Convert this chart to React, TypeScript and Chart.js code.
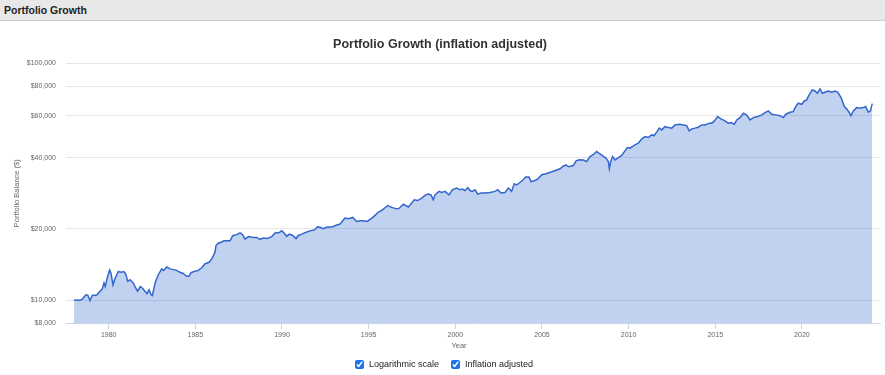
import React, { useEffect, useRef } from "react";
import { Chart, registerables } from "chart.js";

Chart.register(...registerables);

const FONT = '"Liberation Sans", Arial, Helvetica, sans-serif';

const chartTitle = "Portfolio Growth (inflation adjusted)";
const panelTitle = "Portfolio Growth";
const yAxisTitle = "Portfolio Balance ($)";
const xAxisTitle = "Year";
const legendItems = ["Logarithmic scale", "Inflation adjusted"];

const xTicks = [1980, 1985, 1990, 1995, 2000, 2005, 2010, 2015, 2020];
const yTicks = [8000, 10000, 20000, 40000, 60000, 80000, 100000];

const years = [
  1978.0, 1978.34, 1978.48, 1978.67, 1978.79, 1978.92, 1979.05, 1979.31, 1979.5, 1979.63,
  1979.73, 1979.8, 1979.94, 1980.06, 1980.13, 1980.25, 1980.36, 1980.55, 1980.71, 1980.87,
  1980.98, 1981.1, 1981.23, 1981.42, 1981.56, 1981.67, 1981.82, 1981.94, 1982.09, 1982.21,
  1982.33, 1982.44, 1982.52, 1982.63, 1982.71, 1982.86, 1983.06, 1983.17, 1983.35, 1983.54,
  1983.73, 1983.92, 1984.11, 1984.3, 1984.5, 1984.63, 1984.75, 1984.98, 1985.17, 1985.37,
  1985.56, 1985.79, 1985.94, 1986.13, 1986.19, 1986.32, 1986.52, 1986.65, 1986.81, 1987.0,
  1987.16, 1987.39, 1987.58, 1987.73, 1987.87, 1988.06, 1988.34, 1988.54, 1988.73, 1988.92,
  1989.15, 1989.41, 1989.6, 1989.84, 1989.98, 1990.12, 1990.27, 1990.42, 1990.62, 1990.81,
  1990.94, 1991.14, 1991.43, 1991.71, 1991.9, 1992.04, 1992.19, 1992.38, 1992.61, 1992.87,
  1993.12, 1993.35, 1993.5, 1993.64, 1993.83, 1994.08, 1994.31, 1994.5, 1994.69, 1994.92,
  1995.18, 1995.37, 1995.56, 1995.66, 1995.85, 1996.1, 1996.33, 1996.62, 1996.75, 1997.0,
  1997.29, 1997.48, 1997.63, 1997.83, 1998.06, 1998.29, 1998.44, 1998.6, 1998.73, 1998.83,
  1999.06, 1999.22, 1999.41, 1999.64, 1999.83, 2000.08, 2000.27, 2000.4, 2000.56, 2000.72,
  2000.85, 2000.98, 2001.14, 2001.29, 2001.48, 2001.71, 2002.0, 2002.29, 2002.45, 2002.64,
  2002.87, 2003.06, 2003.25, 2003.4, 2003.54, 2003.73, 2003.92, 2004.06, 2004.25, 2004.37,
  2004.56, 2004.75, 2004.99, 2005.18, 2005.58, 2006.05, 2006.2, 2006.39, 2006.52, 2006.81,
  2006.97, 2007.16, 2007.39, 2007.58, 2007.77, 2008.0, 2008.16, 2008.31, 2008.51, 2008.7,
  2008.83, 2008.89, 2008.97, 2009.08, 2009.22, 2009.41, 2009.6, 2009.79, 2009.93, 2010.08,
  2010.37, 2010.56, 2010.76, 2010.95, 2011.14, 2011.33, 2011.47, 2011.62, 2011.77, 2011.91,
  2012.1, 2012.29, 2012.49, 2012.68, 2012.93, 2013.16, 2013.35, 2013.5, 2013.64, 2013.83,
  2014.02, 2014.22, 2014.41, 2014.66, 2014.8, 2014.95, 2015.14, 2015.33, 2015.56, 2015.75,
  2015.91, 2016.1, 2016.24, 2016.43, 2016.62, 2016.81, 2017.01, 2017.2, 2017.45, 2017.68,
  2017.83, 2018.06, 2018.26, 2018.49, 2018.74, 2018.93, 2019.07, 2019.32, 2019.5, 2019.64,
  2019.79, 2019.99, 2020.14, 2020.28, 2020.41, 2020.6, 2020.76, 2020.89, 2021.05, 2021.18,
  2021.33, 2021.53, 2021.72, 2021.91, 2022.07, 2022.26, 2022.45, 2022.59, 2022.72, 2022.83,
  2022.97, 2023.16, 2023.35, 2023.54, 2023.68, 2023.83, 2023.95, 2024.06,
];

const balances = [
  10000, 9980, 10100, 10500, 10500, 9950, 10450, 10500, 10900, 11150,
  11800, 11400, 12600, 13400, 13000, 11600, 12300, 13200, 13100, 13200,
  12900, 12000, 12200, 11800, 11250, 10900, 11400, 11250, 10900, 10650,
  11050, 10550, 10450, 11400, 12000, 12800, 13550, 13350, 13800, 13550,
  13450, 13350, 13100, 12950, 12600, 12600, 13050, 13250, 13350, 13700,
  14250, 14450, 14900, 15900, 17000, 17400, 17600, 17800, 17800, 17800,
  18700, 18900, 19250, 18900, 18100, 18550, 18400, 18400, 18050, 18300,
  18200, 18550, 19200, 19300, 19650, 19200, 18600, 19000, 18750, 18200,
  18750, 19000, 19400, 19700, 19850, 20400, 20300, 20050, 20350, 20350,
  20700, 20950, 21650, 22200, 22050, 22350, 21500, 21650, 21650, 21500,
  22200, 22800, 23550, 23700, 24250, 25100, 24650, 24300, 24400, 25450,
  24750, 25700, 26550, 26350, 27000, 27850, 28050, 27850, 26550, 27850,
  28800, 28500, 28800, 27850, 29250, 29750, 29250, 29450, 29050, 29900,
  29050, 28800, 29250, 28050, 28350, 28350, 28500, 28800, 29250, 28350,
  28500, 29750, 28800, 31000, 30700, 31400, 32250, 33100, 33100, 31700,
  31950, 32450, 33850, 34100, 34850, 35900, 36700, 37300, 36600, 37050,
  38800, 39150, 39050, 38500, 40450, 41400, 42450, 41650, 40700, 39800,
  38500, 35900, 38500, 40450, 39150, 40050, 40850, 42750, 44150, 43900,
  45300, 46050, 48000, 49100, 48650, 49900, 49600, 51250, 53300, 52400,
  54100, 53600, 53300, 55000, 55400, 55000, 54650, 51900, 52900, 53300,
  53800, 55000, 55000, 55950, 55950, 57200, 59650, 58300, 57200, 55950,
  56250, 55400, 57750, 59050, 61650, 60650, 57750, 59050, 59650, 60650,
  61650, 63050, 61050, 60650, 60200, 59050, 61050, 62250, 62600, 65750,
  67950, 67250, 69450, 70150, 73600, 77300, 76550, 74850, 78050, 74850,
  75600, 76550, 75600, 76550, 75600, 71750, 65750, 64250, 62250, 60200,
  63050, 65100, 64700, 65100, 65750, 62250, 63050, 67650,
];

export default function App() {
  const canvasRef = useRef<HTMLCanvasElement | null>(null);

  useEffect(() => {
    if (!canvasRef.current) return;
    const chart = new Chart(canvasRef.current, {
      type: "line",
      data: {
        datasets: [
          {
            data: years.map((x, i) => ({ x, y: balances[i] })),
            borderColor: "#3366cc",
            backgroundColor: "rgba(51,102,204,0.3)",
            borderWidth: 1.5,
            pointRadius: 0,
            fill: "start",
            tension: 0,
          },
        ],
      },
      options: {
        responsive: false,
        animation: false,
        layout: { padding: { left: 0, right: 24, top: 0, bottom: 0 } },
        plugins: {
          legend: { display: false },
          tooltip: { enabled: false },
          title: {
            display: true,
            text: chartTitle,
            color: "#333333",
            font: { family: FONT, size: 12.5, weight: "bold" },
            padding: { top: 15.5, bottom: 11 },
          },
        },
        scales: {
          x: {
            type: "linear",
            min: 1977.536,
            max: 2024.507,
            afterBuildTicks: (s: any) => {
              s.ticks = xTicks.map((v) => ({ value: v }));
            },
            afterFit: (s: any) => {
              s.height = 29;
            },
            ticks: {
              callback: (v: any) => String(v),
              color: "#666666",
              font: { family: FONT, size: 7 },
              padding: 1.5,
              maxRotation: 0,
              autoSkip: false,
            },
            grid: {
              display: true,
              drawOnChartArea: false,
              drawTicks: true,
              tickLength: 6,
              color: "#ccd6eb",
            },
            border: { display: true, color: "#ccd6eb" },
          },
          y: {
            type: "logarithmic",
            min: 8000,
            max: 100000,
            afterBuildTicks: (s: any) => {
              s.ticks = yTicks.map((v) => ({ value: v }));
            },
            afterFit: (s: any) => {
              s.width = 66;
            },
            ticks: {
              callback: (v: any) => "$" + Number(v).toLocaleString("en-US"),
              color: "#666666",
              font: { family: FONT, size: 7 },
              padding: 10,
              autoSkip: false,
            },
            grid: { color: "#e6e6e6", drawTicks: false },
            border: { display: false },
            title: {
              display: true,
              text: yAxisTitle,
              color: "#666666",
              font: { family: FONT, size: 7.5 },
              padding: { top: 12.5, bottom: 0 },
            },
          },
        },
      },
    } as any);
    return () => chart.destroy();
  }, []);

  return (
    <div
      style={{
        position: "absolute",
        left: 0,
        top: 0,
        width: 885,
        height: 375,
        overflow: "hidden",
        background: "#ffffff",
        fontFamily: FONT,
      }}
    >
      <div
        style={{
          position: "absolute",
          left: 0,
          top: 0,
          width: 885,
          height: 21,
          background: "#e8e8e8",
          borderBottom: "1px solid #cccccc",
          boxSizing: "border-box",
        }}
      >
        <span
          style={{
            position: "absolute",
            left: 4,
            top: 4,
            fontSize: 10.5,
            fontWeight: "bold",
            color: "#222222",
            lineHeight: "12px",
          }}
        >
          {panelTitle}
        </span>
      </div>
      <canvas
        ref={canvasRef}
        width={904}
        height={330}
        style={{ position: "absolute", left: 0, top: 22, width: 904, height: 330 }}
      />
      <div
        style={{
          position: "absolute",
          left: 439,
          width: 40,
          top: 341,
          textAlign: "center",
          fontSize: 7.5,
          color: "#666666",
          lineHeight: "9px",
        }}
      >
        {xAxisTitle}
      </div>
      {legendItems.map((label, i) => (
        <label
          key={label}
          style={{
            position: "absolute",
            left: i === 0 ? 355 : 451,
            top: 359,
            display: "flex",
            alignItems: "center",
            fontSize: 9,
            color: "#222222",
            lineHeight: "11px",
          }}
        >
          <input
            type="checkbox"
            defaultChecked
            style={{ width: 9, height: 9, margin: 0, marginRight: 5, accentColor: "#1a73e8" }}
          />
          {label}
        </label>
      ))}
    </div>
  );
}
